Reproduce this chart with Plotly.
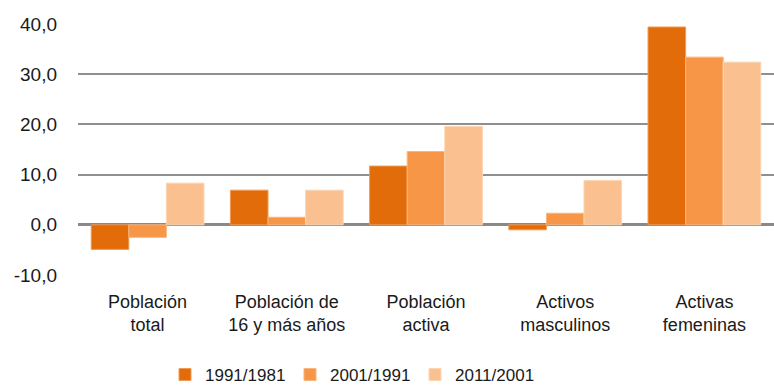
import plotly.graph_objects as go

categories = ["Población<br>total", "Población de<br>16 y más años", "Población<br>activa",
              "Activos<br>masculinos", "Activas<br>femeninas"]
series_names = ["1991/1981", "2001/1991", "2011/2001"]
v_1991_1981 = [-4.9, 6.9, 11.7, -1.0, 39.4]
v_2001_1991 = [-2.5, 1.5, 14.6, 2.3, 33.4]
v_2011_2001 = [8.3, 6.9, 19.6, 8.8, 32.4]
colors = ["#E36C0A", "#F79646", "#FAC090"]
edge_colors = ["#EE9B55", "#FAB47C", "#FCD5B2"]

y_ticks = [-10, 0, 10, 20, 30, 40]
y_tick_text = ["-10,0", "0,0", "10,0", "20,0", "30,0", "40,0"]

fig = go.Figure()
for name, vals, c, ec in zip(series_names, [v_1991_1981, v_2001_1991, v_2011_2001], colors, edge_colors):
    fig.add_trace(go.Bar(x=categories, y=vals, name=name,
                         marker=dict(color=c, line=dict(color=ec, width=1))))

font_family = "Liberation Sans, Arial, sans-serif"
fig.update_layout(
    width=774, height=385,
    margin=dict(l=78, r=0, t=24, b=110),
    paper_bgcolor="white", plot_bgcolor="white",
    barmode="group", bargap=0.19, bargroupgap=0,
    font=dict(family=font_family, size=18, color="#1a1a1a"),
    showlegend=True,
    legend=dict(orientation="h", x=0.125, xanchor="left", yref="container", y=0.026,
                yanchor="middle", font=dict(size=17), traceorder="normal",
                entrywidth=80),
    xaxis=dict(tickfont=dict(size=18), showgrid=False, showline=False, ticks="",
               ticklabelstandoff=14),
    yaxis=dict(range=[-10, 40], tickvals=y_ticks, ticktext=y_tick_text,
               tickfont=dict(size=19), showgrid=True, gridcolor="#8f8f8f", gridwidth=1.5,
               zeroline=True, zerolinecolor="#898989", zerolinewidth=3,
               showline=False, ticks="", ticklabelstandoff=20),
)

fig.write_html("out.html")
